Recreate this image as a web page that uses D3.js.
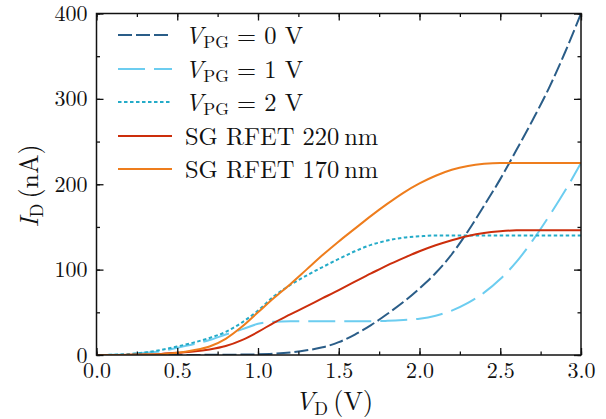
<!DOCTYPE html>
<html><head><meta charset="utf-8">
<script src="https://cdn.jsdelivr.net/npm/d3@7/dist/d3.min.js"></script>
<style>body{margin:0;background:#fff}svg{display:block}text{font-family:"Latin Modern Roman","CMU Serif",serif;fill:#111}</style>
</head><body><svg id="c" width="606" height="419"></svg>
<script>
const vd = [0,0.1,0.2,0.3,0.4,0.5,0.6,0.7,0.8,0.9,1.0,1.1,1.2,1.3,1.4,1.5,1.6,1.7,1.8,1.9,2.0,2.1,2.2,2.3,2.4,2.5,2.6,2.7,2.8,2.9,3.0];
const vpg0 = [0,0,0,0,0,0,0.1,0.2,0.3,0.5,0.8,1.5,3,5.5,9,15,24,35,48,62,78,96,118,145,175,206,240,275,312,354,400];
const vpg1 = [0,0.3,1,2.5,4.5,8.5,12.5,17.5,24,30,36.5,39,39.5,39.5,39.5,39.5,39.5,39.5,40,41,42.5,46,52,61,73,89,109,134,162,192,225];
const vpg2 = [0,0.3,1.2,3,6,10,14.5,20,27,38,52,69,82,93,103,112.5,121.5,129,134,137.5,139,140,140,140,140,140,140,140,140,140,140];
const rfet220 = [0,0,0.2,0.6,1.3,2.5,4,6.5,10.5,17.5,27,38,47.5,57,66.5,76,86,95.5,105,113.5,121.5,128.5,134.5,139.5,143,145,146,146,146,146,146];
const rfet170 = [0,0,0.2,0.5,1,2.5,5.5,10,19,33,50,67,83,100,117,133,148,163,177,190,201,210,217,221.5,224,225,225,225,225,225,225];
const xTicks = [0,0.5,1.0,1.5,2.0,2.5,3.0];
const yTicks = [0,100,200,300,400];

const series = [
  {sub:"PG", val:"0", data:vpg0, color:"#2a5d88", dash:"14,4"},
  {sub:"PG", val:"1", data:vpg1, color:"#6ccdf0", dash:"27,9"},
  {sub:"PG", val:"2", data:vpg2, color:"#24abc8", dash:"3.5,2.5"},
  {label:"SG RFET 220\u2009nm", data:rfet220, color:"#cc2e0c", dash:null},
  {label:"SG RFET 170\u2009nm", data:rfet170, color:"#ee7d1d", dash:null}
];

const svg = d3.select("#c");
const L=96.5, R=581, T=13.5, B=355;
const x = d3.scaleLinear().domain([0,3]).range([L,R]);
const y = d3.scaleLinear().domain([0,400]).range([B,T]);

svg.append("defs").append("clipPath").attr("id","clip").append("rect").attr("x",L).attr("y",T).attr("width",R-L).attr("height",B-T);

const line = d3.line().x((d,i)=>x(vd[i])).y(d=>y(d)).curve(d3.curveMonotoneX);
const g = svg.append("g").attr("clip-path","url(#clip)");
series.forEach(s=>{
  g.append("path").attr("d",line(s.data)).attr("fill","none").attr("stroke",s.color)
   .attr("stroke-width",2).attr("stroke-dasharray",s.dash);
});

const minorX = d3.range(0,3.001,0.25), minorY = d3.range(0,401,50);
function axis(gen, scale, pos, tf){
  const a = svg.append("g").attr("transform",pos);
  a.call(gen(scale).tickValues(tf.vals).tickSize(tf.size).tickFormat(tf.fmt||"").tickSizeOuter(0).tickPadding(tf.pad||3));
  a.attr("font-family",null);
  a.select(".domain").remove();
  a.selectAll("line").attr("stroke","#111").attr("stroke-width",1.3);
  a.selectAll("text").style("font-size","22px").attr("fill","#111");
  return a;
}
axis(d3.axisBottom, x, `translate(0,${B})`, {vals:minorX, size:-3.5});
axis(d3.axisBottom, x, `translate(0,${B})`, {vals:xTicks, size:-7, fmt:d3.format(".1f"), pad:7});
axis(d3.axisTop, x, `translate(0,${T})`, {vals:minorX, size:-3.5});
axis(d3.axisTop, x, `translate(0,${T})`, {vals:xTicks, size:-7});
axis(d3.axisLeft, y, `translate(${L},0)`, {vals:minorY, size:-3.5});
axis(d3.axisLeft, y, `translate(${L},0)`, {vals:yTicks, size:-7, fmt:d3.format("d"), pad:9});
axis(d3.axisRight, y, `translate(${R},0)`, {vals:minorY, size:-3.5});
axis(d3.axisRight, y, `translate(${R},0)`, {vals:yTicks, size:-7});

svg.append("rect").attr("x",L).attr("y",T).attr("width",R-L).attr("height",B-T)
  .attr("fill","none").attr("stroke","#111").attr("stroke-width",1.5);

const xl = svg.append("text").attr("x",334).attr("y",410).attr("text-anchor","middle").style("font-size","26px");
xl.append("tspan").attr("font-style","italic").text("V");
xl.append("tspan").attr("dy",5).style("font-size","18px").text("D");
xl.append("tspan").attr("dy",-5).text("\u2009(V)");

const yl = svg.append("text").attr("transform","translate(38,186) rotate(-90)").attr("text-anchor","middle").style("font-size","26px");
yl.append("tspan").attr("font-style","italic").text("I");
yl.append("tspan").attr("dy",5).style("font-size","18px").text("D");
yl.append("tspan").attr("dy",-5).text("\u2009(nA)");

const rowY = [35,69,102,136,169];
series.forEach((s,i)=>{
  const yy = rowY[i];
  svg.append("line").attr("x1",118).attr("x2",172).attr("y1",yy).attr("y2",yy)
    .attr("stroke",s.color).attr("stroke-width",2).attr("stroke-dasharray",s.dash);
  const t = svg.append("text").attr("x",185).attr("y",yy+8.5).style("font-size","24.5px");
  if(s.label){ t.text(s.label); }
  else {
    t.append("tspan").attr("font-style","italic").text("V");
    t.append("tspan").attr("dy",4.5).style("font-size","17.5px").text(s.sub);
    t.append("tspan").attr("dy",-4.5).text(" = " + s.val + " V");
  }
});
</script></body></html>
